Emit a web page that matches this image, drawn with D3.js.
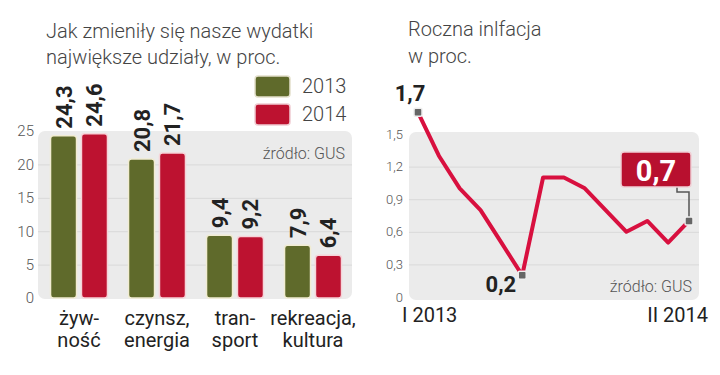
<!DOCTYPE html>
<html>
<head>
<meta charset="utf-8">
<script src="https://cdn.jsdelivr.net/npm/d3@7"></script>
<style>
  body { margin: 0; background: #fff; }
  svg { display: block; font-family: Roboto, "Open Sans", sans-serif; }
  .tick line { stroke: #d9d9d9; }
</style>
</head>
<body>
<svg id="chart" width="720" height="375"></svg>
<script>
// wydatki
var categories = ["żyw-|ność", "czynsz,|energia", "tran-|sport", "rekreacja,|kultura"];
var years = ["2013", "2014"];
var values2013 = [24.3, 20.8, 9.4, 7.9];
var values2014 = [24.6, 21.7, 9.2, 6.4];
var barTicks = [0, 5, 10, 15, 20, 25];

// inflacja
var months = ["I 2013", "II", "III", "IV", "V", "VI", "VII", "VIII", "IX", "X", "XI", "XII", "I 2014", "II 2014"];
var inflation = [1.7, 1.3, 1.0, 0.8, 0.5, 0.2, 1.1, 1.1, 1.0, 0.8, 0.6, 0.7, 0.5, 0.7];
var lineTicks = [0, 0.3, 0.6, 0.9, 1.2, 1.5];

var colors = { "2013": "#5f6a2b", "2014": "#bd1230" };
var fmt = d3.format(".1f");
var comma = function(v) { return fmt(v).replace(".", ","); };

var svg = d3.select("#chart");

// ---------- lewy wykres ----------
var left = svg.append("g");

left.append("text").attr("x", 46).attr("y", 38)
    .attr("font-size", 20).attr("font-weight", 300).attr("fill", "#444")
    .text("Jak zmieniły się nasze wydatki");
left.append("text").attr("x", 46).attr("y", 64)
    .attr("font-size", 20).attr("font-weight", 300).attr("fill", "#444")
    .text("największe udziały, w proc.");

var y1 = d3.scaleLinear().domain([0, 25]).range([298, 131]);
var x0 = d3.scaleBand().domain(categories).range([40, 352])
    .paddingInner(0.27).paddingOuter(0.135);
var x1 = d3.scaleBand().domain(years).range([0, x0.bandwidth()]).paddingInner(0.16);

left.append("rect").attr("x", 38).attr("y", 131).attr("width", 314).attr("height", 168)
    .attr("rx", 7).attr("fill", "#ebebeb");

left.append("g").attr("transform", "translate(38,0)")
    .call(d3.axisRight(y1).tickValues(barTicks.slice(1, 5)).tickSize(314).tickFormat(""))
    .call(function(g) { g.select(".domain").remove(); });

left.append("g").attr("transform", "translate(34,0)")
    .call(d3.axisLeft(y1).tickValues(barTicks).tickSize(0).tickPadding(0))
    .call(function(g) {
        g.select(".domain").remove();
        g.selectAll("text").attr("font-size", 15).attr("font-weight", 300)
            .attr("fill", "#555").attr("font-family", "Roboto, sans-serif");
    });

left.append("text").attr("x", 345).attr("y", 159).attr("text-anchor", "end")
    .attr("font-size", 16).attr("font-weight", 300).attr("fill", "#555")
    .text("źródło: GUS");

var rows = categories.map(function(c, i) {
    return { cat: c, vals: [{ y: "2013", v: values2013[i] }, { y: "2014", v: values2014[i] }] };
});

var grp = left.selectAll(".grp").data(rows).enter().append("g")
    .attr("transform", function(d) { return "translate(" + x0(d.cat) + ",0)"; });

grp.selectAll("rect").data(function(d) { return d.vals; }).enter().append("rect")
    .attr("x", function(d) { return x1(d.y); })
    .attr("y", function(d) { return y1(d.v); })
    .attr("width", x1.bandwidth())
    .attr("height", function(d) { return y1(0) - y1(d.v); })
    .attr("rx", 3)
    .attr("fill", function(d) { return colors[d.y]; })
    .attr("stroke", function(d) { return d.y == "2013" ? "#f1ecd2" : "#f6d3d8"; })
    .attr("stroke-width", 1.5);

grp.selectAll(".val").data(function(d) { return d.vals; }).enter().append("text")
    .attr("transform", function(d) {
        return "translate(" + (x1(d.y) + x1.bandwidth() / 2 + 8) + "," + (y1(d.v) - 7) + ") rotate(-90)";
    })
    .attr("font-size", 22).attr("font-weight", 700).attr("fill", "#222")
    .text(function(d) { return comma(d.v); });

grp.each(function(d) {
    var parts = d.cat.split("|");
    var t = d3.select(this).append("text").attr("text-anchor", "middle")
        .attr("font-size", 20).attr("fill", "#222");
    t.append("tspan").attr("x", x0.bandwidth() / 2).attr("y", 325).text(parts[0]);
    t.append("tspan").attr("x", x0.bandwidth() / 2).attr("y", 347).text(parts[1]);
});

// legenda
var leg = left.selectAll(".leg").data(years).enter().append("g")
    .attr("transform", function(d, i) { return "translate(255," + (76 + i * 28) + ")"; });
leg.append("rect").attr("width", 35).attr("height", 21).attr("rx", 3)
    .attr("fill", function(d) { return colors[d]; })
    .attr("stroke", function(d) { return d == "2013" ? "#e4e0cc" : "#f0ccd2"; })
    .attr("stroke-width", 1.5);
leg.append("text").attr("x", 47).attr("y", 17)
    .attr("font-size", 20).attr("font-weight", 300).attr("fill", "#444")
    .text(function(d) { return d; });

// ---------- prawy wykres ----------
var right = svg.append("g");

right.append("text").attr("x", 408).attr("y", 36)
    .attr("font-size", 20).attr("font-weight", 300).attr("fill", "#444")
    .text("Roczna inlfacja");
right.append("text").attr("x", 408).attr("y", 63)
    .attr("font-size", 20).attr("font-weight", 300).attr("fill", "#444")
    .text("w proc.");

var y2 = d3.scaleLinear().domain([0, 1.5]).range([297, 134]);
var x2 = d3.scalePoint().domain(d3.range(months.length)).range([418, 689]);

right.append("rect").attr("x", 409).attr("y", 132).attr("width", 290).attr("height", 168)
    .attr("rx", 7).attr("fill", "#ebebeb");

right.append("g").attr("transform", "translate(409,0)")
    .call(d3.axisRight(y2).tickValues(lineTicks.slice(1, 5)).tickSize(290).tickFormat(""))
    .call(function(g) { g.select(".domain").remove(); });

right.append("g").attr("transform", "translate(403,0)")
    .call(d3.axisLeft(y2).tickValues(lineTicks).tickSize(0).tickPadding(0)
        .tickFormat(function(v) { return v === 0 ? "0" : comma(v); }))
    .call(function(g) {
        g.select(".domain").remove();
        g.selectAll("text").attr("font-size", 13).attr("font-weight", 300)
            .attr("fill", "#555").attr("font-family", "Roboto, sans-serif");
    });

right.append("text").attr("x", 692).attr("y", 292).attr("text-anchor", "end")
    .attr("font-size", 16).attr("font-weight", 300).attr("fill", "#555")
    .text("źródło: GUS");

var line = d3.line()
    .x(function(d, i) { return x2(i); })
    .y(function(d) { return y2(d); });

right.append("path").datum(inflation).attr("d", line)
    .attr("fill", "none").attr("stroke", "#d8103f").attr("stroke-width", 4)
    .attr("stroke-linejoin", "round");

// wyróżnione punkty
var last = inflation.length - 1;
var marked = [0, 5, last];

// łącznik do ramki
var bx = 621, by = 152, bw = 70, bh = 35;
var px = x2(last), py = y2(inflation[last]);
right.append("path")
    .attr("d", "M" + (bx + 56) + "," + (by + bh) + "V" + (by + bh + 5) + "H" + px + "V" + py)
    .attr("fill", "none").attr("stroke", "#555").attr("stroke-width", 1.5);

right.selectAll(".mk").data(marked).enter().append("rect")
    .attr("x", function(i) { return x2(i) - 4; })
    .attr("y", function(i) { return y2(inflation[i]) - 4; })
    .attr("width", 8).attr("height", 8).attr("rx", 1.5)
    .attr("fill", "#666").attr("stroke", "#eee").attr("stroke-width", 1.5);

right.append("text").attr("x", x2(0) - 8).attr("y", 101).attr("text-anchor", "middle")
    .attr("font-size", 22).attr("font-weight", 700).attr("fill", "#222")
    .text(comma(inflation[0]));
right.append("text").attr("x", x2(5) - 6).attr("y", 292).attr("text-anchor", "end")
    .attr("font-size", 22).attr("font-weight", 700).attr("fill", "#222")
    .text(comma(inflation[5]));

right.append("rect").attr("x", bx).attr("y", by).attr("width", bw).attr("height", bh)
    .attr("rx", 3).attr("fill", "#b8102f").attr("stroke", "#f0d0d6").attr("stroke-width", 1.5);
right.append("text").attr("x", bx + bw / 2).attr("y", by + 29).attr("text-anchor", "middle")
    .attr("font-size", 29).attr("font-weight", 700).attr("fill", "#fff")
    .text(comma(inflation[last]));

right.append("text").attr("x", 402).attr("y", 322)
    .attr("font-size", 20).attr("fill", "#222").text(months[0]);
right.append("text").attr("x", 708).attr("y", 322).attr("text-anchor", "end")
    .attr("font-size", 20).attr("fill", "#222").text(months[last]);
</script>
</body>
</html>
